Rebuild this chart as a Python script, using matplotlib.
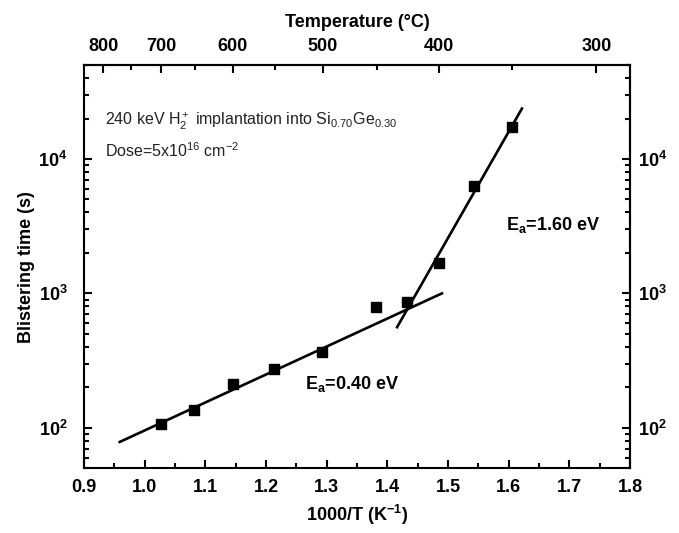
import numpy as np
import matplotlib
matplotlib.use("Agg")
import matplotlib.pyplot as plt
from matplotlib.ticker import FixedLocator, FuncFormatter, LogLocator, MultipleLocator

plt.rcParams['font.family'] = ['Liberation Sans', 'DejaVu Sans']
plt.rcParams['mathtext.fontset'] = 'custom'
plt.rcParams['mathtext.rm'] = 'Liberation Sans'
plt.rcParams['mathtext.it'] = 'Liberation Sans:italic'
plt.rcParams['mathtext.bf'] = 'Liberation Sans:bold'

# measured blistering times
inv_t = [1.027, 1.082, 1.145, 1.213, 1.293, 1.382, 1.4325, 1.486, 1.5425, 1.605]
blister_time = [106, 135, 212, 276, 365, 789, 859, 1672, 6330, 17400]

# Arrhenius fit lines (end points)
fit_low_x = [0.957, 1.492]
fit_low_y = [77.8, 1010]
fit_high_x = [1.415, 1.623]
fit_high_y = [550, 24200]

temp_ticks = [800, 700, 600, 500, 400, 300]
temp_minor = [750, 650, 550, 450, 350]
y_ticks = [1e2, 1e3, 1e4]


def inv_to_temp(x):
    x = np.asarray(x, dtype=float)
    with np.errstate(divide='ignore', invalid='ignore'):
        return 1000.0 / x - 273.15


def temp_to_inv(t):
    t = np.asarray(t, dtype=float)
    with np.errstate(divide='ignore', invalid='ignore'):
        return 1000.0 / (t + 273.15)


def pow_label(v, p):
    return r"$\mathbf{10^{%d}}$" % round(np.log10(v))


fig = plt.figure(figsize=(6.79, 5.33), dpi=100)
ax = fig.add_axes([0.1237, 0.1214, 0.8041, 0.7566])

ax.plot(fit_low_x, fit_low_y, color='black', lw=1.9, solid_capstyle='butt')
ax.plot(fit_high_x, fit_high_y, color='black', lw=1.9, solid_capstyle='butt')
ax.plot(inv_t, blister_time, 's', color='black', ms=7.5, zorder=3)

ax.set_yscale('log')
ax.set_xlim(0.9, 1.8)
ax.set_ylim(50, 50000)

ax.xaxis.set_major_locator(MultipleLocator(0.1))
ax.xaxis.set_minor_locator(MultipleLocator(0.05))
ax.xaxis.set_major_formatter(FuncFormatter(lambda v, p: f"{v:.1f}"))
ax.yaxis.set_major_locator(FixedLocator(y_ticks))
ax.yaxis.set_minor_locator(LogLocator(base=10, subs=np.arange(2, 10)))
ax.yaxis.set_major_formatter(FuncFormatter(pow_label))

for s in ax.spines.values():
    s.set_linewidth(1.5)

ax.tick_params(which='both', direction='in', top=False, right=False, width=1.5)
ax.tick_params(which='major', length=6)
ax.tick_params(which='minor', length=3.5)
ax.tick_params(axis='x', labelsize=13, pad=8)
ax.tick_params(axis='y', labelsize=13, pad=12)
for lab in ax.get_xticklabels():
    lab.set_fontweight('bold')

# right-hand copy of the time axis
rax = ax.secondary_yaxis('right')
rax.yaxis.set_major_locator(FixedLocator(y_ticks))
rax.yaxis.set_minor_locator(LogLocator(base=10, subs=np.arange(2, 10)))
rax.yaxis.set_major_formatter(FuncFormatter(pow_label))
rax.tick_params(which='both', direction='in', width=1.5)
rax.tick_params(which='major', length=6, labelsize=13, pad=6)
rax.tick_params(which='minor', length=3.5)
rax.spines['right'].set_linewidth(1.5)

sec = ax.secondary_xaxis('top', functions=(inv_to_temp, temp_to_inv))
sec.xaxis.set_major_locator(FixedLocator(temp_ticks))
sec.xaxis.set_minor_locator(FixedLocator(temp_minor))
sec.xaxis.set_major_formatter(FuncFormatter(lambda v, p: f"{v:.0f}"))
sec.tick_params(which='both', direction='in', width=1.5)
sec.tick_params(which='major', length=6, labelsize=13, pad=7)
sec.tick_params(which='minor', length=3.5)
sec.spines['top'].set_linewidth(1.5)
for lab in sec.get_xticklabels():
    lab.set_fontweight('bold')
sec.set_xlabel('Temperature (°C)', fontsize=13, fontweight='bold', labelpad=8)

ax.set_xlabel(r'1000/T (K$^{\mathbf{-1}}$)', fontsize=13, fontweight='bold', labelpad=5)
ax.set_ylabel('Blistering time (s)', fontsize=13, fontweight='bold', labelpad=2)

ax.text(0.038, 0.859, r'240 keV H$_2^+$ implantation into Si$_{0.70}$Ge$_{0.30}$',
        transform=ax.transAxes, fontsize=11.5, va='center', color='#222222')
ax.text(0.038, 0.787, r'Dose=5x10$^{16}$ cm$^{-2}$',
        transform=ax.transAxes, fontsize=11.5, va='center', color='#222222')
ax.text(1.595, 3.24e3, r'E$_\mathbf{a}$=1.60 eV', fontsize=13, fontweight='bold', va='center')
ax.text(1.265, 2.13e2, r'E$_\mathbf{a}$=0.40 eV', fontsize=13, fontweight='bold', va='center')

fig.savefig('out.png', dpi=100)
